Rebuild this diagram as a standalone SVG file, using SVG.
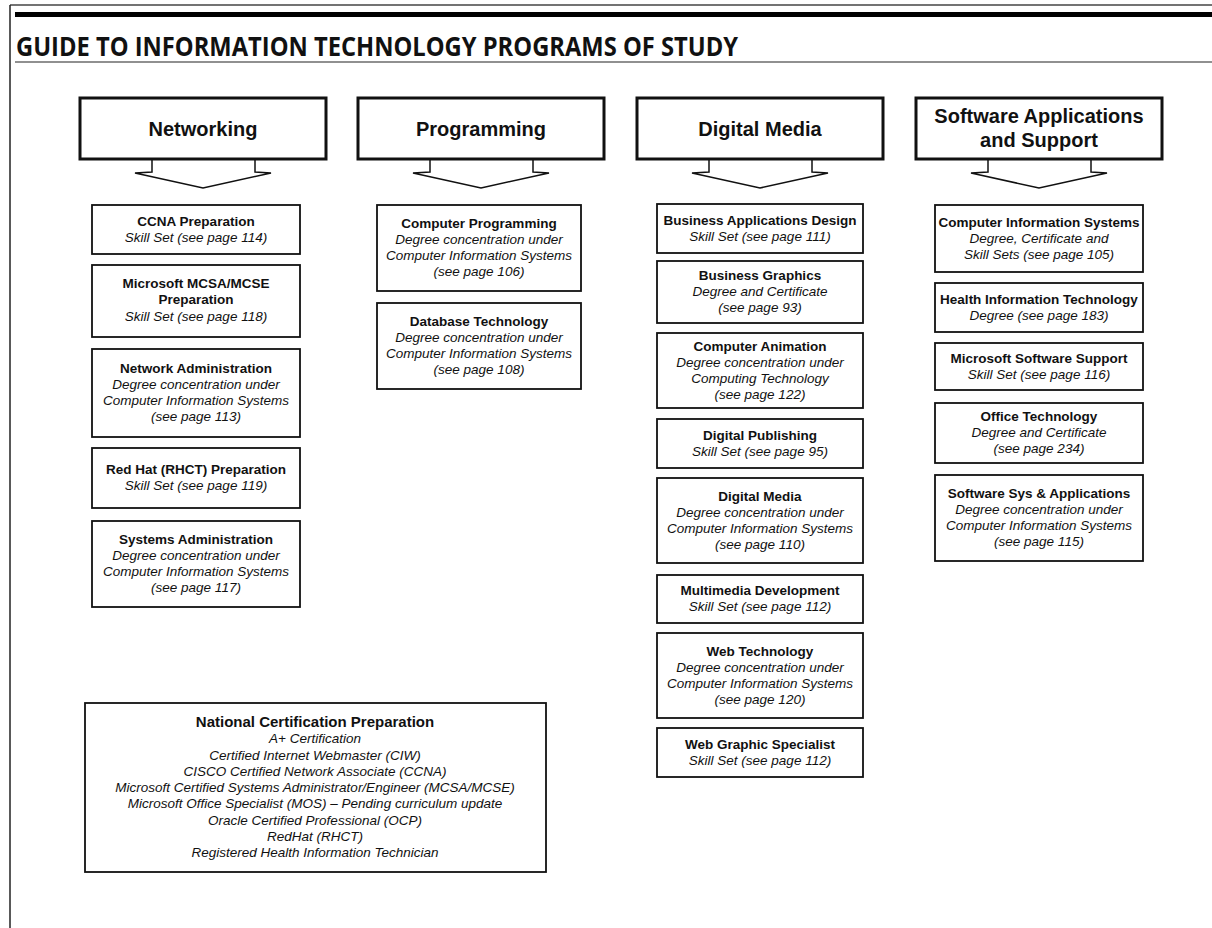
<svg xmlns="http://www.w3.org/2000/svg" width="1212" height="928" viewBox="0 0 1212 928">
<style>
text{font-family:"Liberation Sans",Arial,sans-serif;fill:#111;text-anchor:middle}
.b{font-weight:bold;font-size:13.5px}
.i{font-style:italic;font-size:13.5px}
.h{font-weight:bold;font-size:20px}
.nb{font-weight:bold;font-size:15px}
.ni{font-style:italic;font-size:13.5px}
.hb{fill:#fff;stroke:#111;stroke-width:3}
.sb{fill:#fff;stroke:#111;stroke-width:1.8}
.ar{fill:none;stroke:#111;stroke-width:1.5;stroke-linejoin:miter}
</style>
<rect width="1212" height="928" fill="#fff"/>
<g id="frame">
<line x1="10" y1="5" x2="1212" y2="5" stroke="#444" stroke-width="1.5"/>
<line x1="10" y1="5" x2="10" y2="928" stroke="#222" stroke-width="1.5"/>
<rect x="15" y="12" width="1197" height="5" fill="#000"/>
<line x1="15" y1="62" x2="1212" y2="62" stroke="#222" stroke-width="1.2"/>
<text x="16" y="56" style="text-anchor:start;font-family:'Open Sans','Liberation Sans',sans-serif;font-weight:bold;font-size:27px" textLength="722" lengthAdjust="spacingAndGlyphs">GUIDE TO INFORMATION TECHNOLOGY PROGRAMS OF STUDY</text>
</g>
<g id="connectors">
<polyline class="ar" points="152,159 152,172 135,173 203,188 271,173 255,172 255,159"/>
<polyline class="ar" points="430,159 430,172 413,173 481,188 549,173 533,172 533,159"/>
<polyline class="ar" points="709,159 709,172 692,173 760,188 828,173 812,172 812,159"/>
<polyline class="ar" points="988,159 988,172 971,173 1039,188 1107,173 1091,172 1091,159"/>
</g>
<g id="networking"><rect class="hb" x="80" y="98" width="246" height="61"/><text class="h" x="203" y="136">Networking</text></g>
<g id="programming"><rect class="hb" x="358" y="98" width="246" height="61"/><text class="h" x="481" y="136">Programming</text></g>
<g id="digital-media"><rect class="hb" x="637" y="98" width="246" height="61"/><text class="h" x="760" y="136">Digital Media</text></g>
<g id="software"><rect class="hb" x="916" y="98" width="246" height="61"/><text class="h" x="1039" y="123">Software Applications</text><text class="h" x="1039" y="147">and Support</text></g>

<g id="ccna"><rect class="sb" x="92" y="205" width="208" height="49"/><text class="b" x="196" y="226">CCNA Preparation</text><text class="i" x="196" y="242">Skill Set (see page 114)</text></g>
<g id="mcsa"><rect class="sb" x="92" y="265" width="208" height="72"/><text class="b" x="196" y="288">Microsoft MCSA/MCSE</text><text class="b" x="196" y="304">Preparation</text><text class="i" x="196" y="321">Skill Set (see page 118)</text></g>
<g id="netadmin"><rect class="sb" x="92" y="349" width="208" height="88"/><text class="b" x="196" y="373">Network Administration</text><text class="i" x="196" y="389">Degree concentration under</text><text class="i" x="196" y="405">Computer Information Systems</text><text class="i" x="196" y="421">(see page 113)</text></g>
<g id="redhat"><rect class="sb" x="92" y="448" width="208" height="60"/><text class="b" x="196" y="474">Red Hat (RHCT) Preparation</text><text class="i" x="196" y="490">Skill Set (see page 119)</text></g>
<g id="sysadmin"><rect class="sb" x="92" y="521" width="208" height="86"/><text class="b" x="196" y="544">Systems Administration</text><text class="i" x="196" y="560">Degree concentration under</text><text class="i" x="196" y="576">Computer Information Systems</text><text class="i" x="196" y="592">(see page 117)</text></g>

<g id="compprog"><rect class="sb" x="377" y="205" width="204" height="86"/><text class="b" x="479" y="228">Computer Programming</text><text class="i" x="479" y="244">Degree concentration under</text><text class="i" x="479" y="260">Computer Information Systems</text><text class="i" x="479" y="276">(see page 106)</text></g>
<g id="database"><rect class="sb" x="377" y="303" width="204" height="86"/><text class="b" x="479" y="326">Database Technology</text><text class="i" x="479" y="342">Degree concentration under</text><text class="i" x="479" y="358">Computer Information Systems</text><text class="i" x="479" y="374">(see page 108)</text></g>

<g id="bizapp"><rect class="sb" x="657" y="204" width="206" height="49"/><text class="b" x="760" y="225">Business Applications Design</text><text class="i" x="760" y="241">Skill Set (see page 111)</text></g>
<g id="bizgraph"><rect class="sb" x="657" y="261" width="206" height="62"/><text class="b" x="760" y="280">Business Graphics</text><text class="i" x="760" y="296">Degree and Certificate</text><text class="i" x="760" y="312">(see page 93)</text></g>
<g id="animation"><rect class="sb" x="657" y="333" width="206" height="75"/><text class="b" x="760" y="351">Computer Animation</text><text class="i" x="760" y="367">Degree concentration under</text><text class="i" x="760" y="383">Computing Technology</text><text class="i" x="760" y="399">(see page 122)</text></g>
<g id="publishing"><rect class="sb" x="657" y="419" width="206" height="49"/><text class="b" x="760" y="440">Digital Publishing</text><text class="i" x="760" y="456">Skill Set (see page 95)</text></g>
<g id="dmedia"><rect class="sb" x="657" y="478" width="206" height="85"/><text class="b" x="760" y="501">Digital Media</text><text class="i" x="760" y="517">Degree concentration under</text><text class="i" x="760" y="533">Computer Information Systems</text><text class="i" x="760" y="549">(see page 110)</text></g>
<g id="multimedia"><rect class="sb" x="657" y="575" width="206" height="48"/><text class="b" x="760" y="595">Multimedia Development</text><text class="i" x="760" y="611">Skill Set (see page 112)</text></g>
<g id="webtech"><rect class="sb" x="657" y="633" width="206" height="85"/><text class="b" x="760" y="656">Web Technology</text><text class="i" x="760" y="672">Degree concentration under</text><text class="i" x="760" y="688">Computer Information Systems</text><text class="i" x="760" y="704">(see page 120)</text></g>
<g id="webgraphic"><rect class="sb" x="657" y="728" width="206" height="49"/><text class="b" x="760" y="749">Web Graphic Specialist</text><text class="i" x="760" y="765">Skill Set (see page 112)</text></g>

<g id="cis"><rect class="sb" x="935" y="205" width="208" height="67"/><text class="b" x="1039" y="227">Computer Information Systems</text><text class="i" x="1039" y="243">Degree, Certificate and</text><text class="i" x="1039" y="259">Skill Sets (see page 105)</text></g>
<g id="hit"><rect class="sb" x="935" y="283" width="208" height="49"/><text class="b" x="1039" y="304">Health Information Technology</text><text class="i" x="1039" y="320">Degree (see page 183)</text></g>
<g id="mss"><rect class="sb" x="935" y="343" width="208" height="47"/><text class="b" x="1039" y="363">Microsoft Software Support</text><text class="i" x="1039" y="379">Skill Set (see page 116)</text></g>
<g id="office"><rect class="sb" x="935" y="403" width="208" height="60"/><text class="b" x="1039" y="421">Office Technology</text><text class="i" x="1039" y="437">Degree and Certificate</text><text class="i" x="1039" y="453">(see page 234)</text></g>
<g id="softsys"><rect class="sb" x="935" y="475" width="208" height="86"/><text class="b" x="1039" y="498">Software Sys &amp; Applications</text><text class="i" x="1039" y="514">Degree concentration under</text><text class="i" x="1039" y="530">Computer Information Systems</text><text class="i" x="1039" y="546">(see page 115)</text></g>

<g id="national"><rect class="sb" x="85" y="703" width="461" height="169"/>
<text class="nb" x="315" y="727">National Certification Preparation</text>
<text class="ni" x="315" y="743">A+ Certification</text>
<text class="ni" x="315" y="760">Certified Internet Webmaster (CIW)</text>
<text class="ni" x="315" y="776">CISCO Certified Network Associate (CCNA)</text>
<text class="ni" x="315" y="792">Microsoft Certified Systems Administrator/Engineer (MCSA/MCSE)</text>
<text class="ni" x="315" y="808">Microsoft Office Specialist (MOS) – Pending curriculum update</text>
<text class="ni" x="315" y="825">Oracle Certified Professional (OCP)</text>
<text class="ni" x="315" y="841">RedHat (RHCT)</text>
<text class="ni" x="315" y="857">Registered Health Information Technician</text>
</g>
</svg>
